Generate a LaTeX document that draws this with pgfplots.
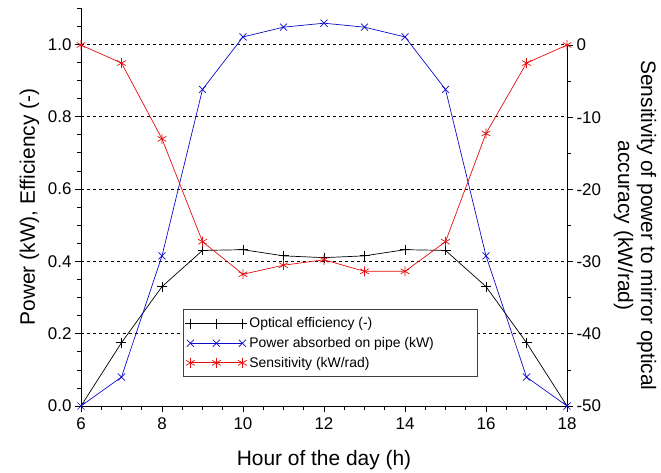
\documentclass[border=0pt]{standalone}
\usepackage{fontspec}
\setmainfont{Liberation Sans}
\usepackage{pgfplots}
\pgfplotsset{compat=1.18}

\definecolor{lineblue}{rgb}{0.05,0.05,0.8}
\definecolor{linered}{rgb}{0.9,0.05,0.05}
\newcommand\legfont{\fontsize{14}{16}\selectfont}

\pgfplotsset{
  common/.style={
    scale only axis, width=486bp, xmin=6, xmax=18,
    /pgf/number format/assume math mode=true,
    tick label style={font=\fontsize{17}{19}\selectfont},
    label style={font=\fontsize{21}{23}\selectfont},
    tick align=outside, major tick length=6bp, minor tick length=4bp,
    tick style={black, line width=0.6bp},
    axis line style={-, line width=0.8bp, black},
    every axis plot/.append style={line width=0.7bp, mark size=5bp},
  },
  threemark/.style={
    legend image code/.code={
      \draw[##1] plot coordinates {(0bp,0bp) (26bp,0bp) (52bp,0bp)};
    }
  },
}

\begin{document}
\begin{tikzpicture}
\path[use as bounding box] (-81bp,-67bp) rectangle (580bp,406bp);

\begin{axis}[
  common, height=398bp,
  ymin=0, ymax=1.1,
  axis x line*=bottom, axis y line*=left,
  xtick={6,8,...,18}, minor xtick={6,6.5,...,18},
  ytick={0,0.2,0.4,0.6,0.8,1.0}, minor ytick={0,0.05,...,1.1},
  yticklabel style={/pgf/number format/.cd, fixed, fixed zerofill, precision=1},
  xticklabel style={yshift=-2bp},
  ymajorgrids, grid style={black, line width=0.6bp, dash pattern=on 3bp off 3bp},
  xlabel={Hour of the day (h)},
  ylabel={Power (kW), Efficiency (-)},
  xlabel style={yshift=-14bp},
  ylabel style={yshift=2bp},
]
\addplot[black, mark=+] coordinates {
  (6,0) (7,0.175) (8,0.33) (9,0.43) (10,0.432) (11,0.415) (12,0.41)
  (13,0.415) (14,0.432) (15,0.43) (16,0.33) (17,0.175) (18,0)
};
\addplot[lineblue, mark=x] coordinates {
  (6,0) (7,0.08) (8,0.415) (9,0.875) (10,1.02) (11,1.047) (12,1.058)
  (13,1.047) (14,1.02) (15,0.875) (16,0.415) (17,0.08) (18,0)
};
\end{axis}

\begin{axis}[
  common, height=361bp,
  ymin=-50, ymax=0,
  axis x line=none, axis y line*=right,
  ytick={-50,-40,...,0}, minor ytick={-50,-45,...,0},
  ylabel={Sensitivity of power to mirror optical\\accuracy (kW/rad)},
  ylabel style={align=center, rotate=180, yshift=6bp},
  legend style={at={(axis description cs:0.2099,0.0803)}, anchor=south west,
    draw=black!75, line width=0.8bp, fill=white,
    font=\legfont, cells={anchor=west},
    inner xsep=2bp, inner ysep=6bp, row sep=4bp},
  legend cell align=left,
]
\addlegendimage{black, mark=+, line width=0.7bp, mark size=5bp, threemark}
\addlegendentry{\makebox[224bp][l]{Optical efficiency (-)}}
\addlegendimage{lineblue, mark=x, line width=0.7bp, mark size=5bp, threemark}
\addlegendentry{Power absorbed on pipe (kW)}
\addplot[linered, mark=asterisk, threemark] coordinates {
  (6,0) (7,-2.5) (8,-13) (9,-27.25) (10,-31.75) (11,-30.5) (12,-29.75)
  (13,-31.35) (14,-31.35) (15,-27.25) (16,-12.25) (17,-2.5) (18,0)
};
\addlegendentry{Sensitivity (kW/rad)}
\end{axis}
\end{tikzpicture}
\end{document}
